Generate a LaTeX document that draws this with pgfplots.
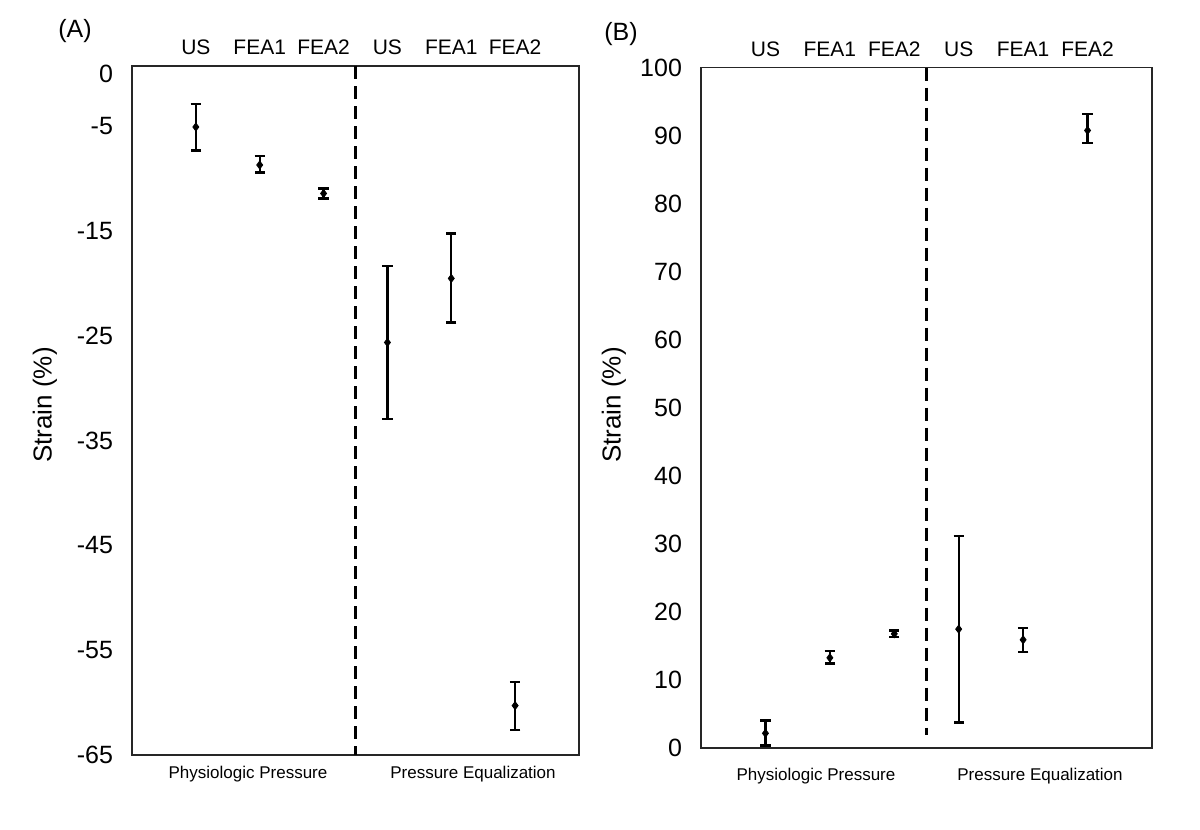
\documentclass[border=0pt]{standalone}
\usepackage{pgfplots}
\pgfplotsset{compat=1.18}
\usepackage{pgfplotstable}
\usepackage{fontspec}
\setmainfont{Liberation Sans}

% x: 0=US, 1=FEA1, 2=FEA2 (Physiologic Pressure); 3=US, 4=FEA1, 5=FEA2 (Pressure Equalization)
\pgfplotstableread{
x y ep em
0 -5.07 2.19 2.24
1 -8.70 0.86 0.73
2 -11.41 0.48 0.48
3 -25.63 7.32 7.29
4 -19.52 4.27 4.20
5 -60.29 2.24 2.31
}\dataA

\pgfplotstableread{
x y ep em
0 2.16 1.91 1.82
1 13.26 0.98 0.82
2 16.78 0.50 0.50
3 17.47 13.70 13.70
4 15.90 1.77 1.76
5 90.75 2.45 1.87
}\dataB

\begin{document}
\begin{tikzpicture}
\path[fill=white] (0,0) rectangle (600pt,-415pt);
\pgfplotsset{
  common/.style={
    scale only axis, clip=false,
    xmin=-1, xmax=6,
    axis line style={line width=0.7pt, black!85},
    major tick length=0pt,
    xtick={0,1,2,3,4,5},
    xticklabels={US,FEA1,FEA2,US,FEA1,FEA2},
    xticklabel pos=upper,
    xticklabel style={font=\fontsize{10.5}{12}\selectfont, yshift=2pt},
    yticklabel style={font=\fontsize{12.5}{14}\selectfont, xshift=-6pt},
  },
  ebars/.style={only marks, black, mark=diamond*, mark size=2pt,
    error bars/.cd, y dir=both, y explicit,
    error bar style={line width=1.2pt, black},
    error mark options={rotate=90, mark size=2.6pt, line width=1.2pt, black}},
  divider/.style={black, line width=1.8pt, dash pattern=on 6.5pt off 3.5pt},
}

% Panel A
\begin{axis}[common, at={(66pt,-33pt)}, anchor=north west,
  width=223.5pt, height=344.5pt,
  ymin=-65, ymax=0.75,
  ytick={-65,-55,-45,-35,-25,-15,-5,0},
  yticklabels={-65,-55,-45,-35,-25,-15,-5,0}]
\addplot[divider] coordinates {(2.5,0.75) (2.5,-65)};
\addplot[ebars] table[x=x, y=y, y error plus=ep, y error minus=em] {\dataA};
\end{axis}

% Panel B
\begin{axis}[common, at={(350.5pt,-33.75pt)}, anchor=north west,
  width=225.5pt, height=340.25pt,
  ymin=0, ymax=100,
  ytick={0,10,20,30,40,50,60,70,80,90,100},
  yticklabels={0,10,20,30,40,50,60,70,80,90,100}]
\addplot[divider] coordinates {(2.5,100) (2.5,1.9)};
\addplot[ebars] table[x=x, y=y, y error plus=ep, y error minus=em] {\dataB};
\end{axis}

\node[font=\fontsize{12.5}{14}\selectfont] at (37.5pt,-15.5pt) {(A)};
\node[font=\fontsize{12.5}{14}\selectfont] at (310.5pt,-17pt) {(B)};
\node[rotate=90, font=\fontsize{13}{15}\selectfont] at (22.5pt,-202.5pt) {Strain (\%)};
\node[rotate=90, font=\fontsize{13}{15}\selectfont] at (307pt,-202.5pt) {Strain (\%)};
\node[font=\fontsize{8.5}{10}\selectfont] at (124pt,-387pt) {Physiologic Pressure};
\node[font=\fontsize{8.5}{10}\selectfont] at (236.5pt,-387pt) {Pressure Equalization};
\node[font=\fontsize{8.5}{10}\selectfont] at (408pt,-388pt) {Physiologic Pressure};
\node[font=\fontsize{8.5}{10}\selectfont] at (520pt,-388pt) {Pressure Equalization};
\end{tikzpicture}
\end{document}
